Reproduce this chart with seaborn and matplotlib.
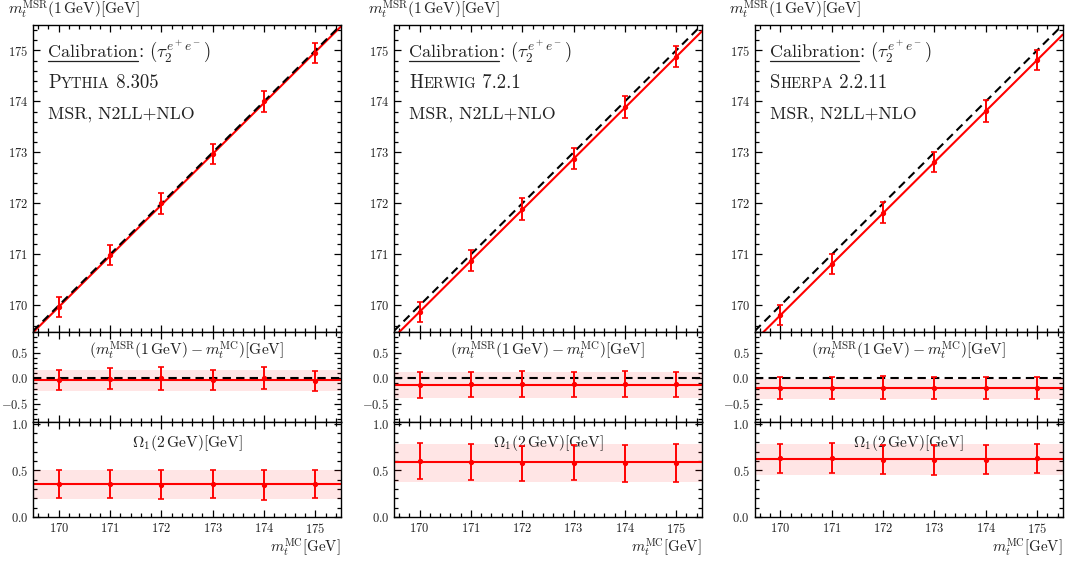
import numpy as np
import pandas as pd
import matplotlib
matplotlib.use("Agg")
import matplotlib.pyplot as plt
import seaborn as sns
from matplotlib.ticker import MultipleLocator

sns.set_theme(style="ticks")
plt.rcParams.update({
    "font.family": "serif",
    "font.serif": ["cmr10"],
    "mathtext.fontset": "cm",
    "axes.formatter.use_mathtext": True,
    "axes.unicode_minus": True,
})

# ---------------- data ----------------
mc = [170, 171, 172, 173, 174, 175]
line_x = [169.5, 175.5]

generators = ["Pythia", "Herwig", "Sherpa"]
gen_label_parts = [("P", "YTHIA", " 8.305"), ("H", "ERWIG", " 7.2.1"), ("S", "HERPA", " 2.2.11")]

pythia_msr = [169.97, 170.99, 172.00, 172.97, 174.00, 174.95]
herwig_msr = [169.87, 170.88, 171.89, 172.88, 173.89, 174.88]
sherpa_msr = [169.81, 170.81, 171.82, 172.81, 173.81, 174.81]
msr_err = [0.2, 0.2, 0.21, 0.2, 0.21, 0.2]

pythia_delta = [-0.03, -0.01, 0.0, -0.03, 0.0, -0.05]
herwig_delta = [-0.13, -0.12, -0.11, -0.12, -0.11, -0.12]
sherpa_delta = [-0.19, -0.19, -0.18, -0.19, -0.19, -0.19]
pythia_delta_err = [0.20, 0.20, 0.22, 0.20, 0.21, 0.20]
herwig_delta_err = [0.25, 0.25, 0.25, 0.25, 0.26, 0.25]
sherpa_delta_err = [0.21, 0.21, 0.22, 0.21, 0.21, 0.21]
delta_fit = [-0.03, -0.125, -0.19]
delta_band = [(-0.24, 0.17), (-0.375, 0.125), (-0.40, -0.01)]

pythia_omega = [0.354, 0.354, 0.347, 0.354, 0.347, 0.354]
herwig_omega = [0.60, 0.59, 0.577, 0.584, 0.577, 0.58]
sherpa_omega = [0.628, 0.635, 0.617, 0.61, 0.617, 0.628]
pythia_omega_err = [0.155, 0.155, 0.155, 0.155, 0.16, 0.155]
herwig_omega_err = [0.19, 0.19, 0.19, 0.19, 0.2, 0.2]
sherpa_omega_err = [0.16, 0.16, 0.16, 0.16, 0.16, 0.16]
omega_fit = [0.354, 0.587, 0.624]
omega_band = [(0.19, 0.507), (0.38, 0.78), (0.456, 0.78)]

msr_all = [pythia_msr, herwig_msr, sherpa_msr]
delta_all = [pythia_delta, herwig_delta, sherpa_delta]
delta_err_all = [pythia_delta_err, herwig_delta_err, sherpa_delta_err]
omega_all = [pythia_omega, herwig_omega, sherpa_omega]
omega_err_all = [pythia_omega_err, herwig_omega_err, sherpa_omega_err]

RED = "#ff0000"
BAND = "#ff0000"
TXT = "#222222"
EB = dict(fmt="o", ms=2.8, color=RED, ecolor=RED, elinewidth=1.4, capsize=2.4,
          capthick=1.2, zorder=4)

fig = plt.figure(figsize=(10.67, 5.66), dpi=100)
gs = fig.add_gridspec(3, 3, height_ratios=[307, 90, 95], hspace=0, wspace=0.172,
                      left=0.031, right=0.996, top=0.956, bottom=0.0866)
renderer = fig.canvas.get_renderer()


def style_axis(ax, ymajor, yminor):
    ax.set_xlim(169.5, 175.5)
    ax.xaxis.set_major_locator(MultipleLocator(1))
    ax.xaxis.set_minor_locator(MultipleLocator(0.2))
    ax.yaxis.set_major_locator(MultipleLocator(ymajor))
    ax.yaxis.set_minor_locator(MultipleLocator(yminor))
    ax.tick_params(which="both", direction="in", top=True, right=True, colors="black",
                   labelcolor=TXT, labelsize=9, width=0.9)
    ax.tick_params(which="major", length=5)
    ax.tick_params(which="minor", length=2.8)
    for s in ax.spines.values():
        s.set_linewidth(1.0)
        s.set_color("black")
    ax.set_xlabel("")
    ax.set_ylabel("")


def chain(ax, x, y, parts):
    texts = []
    inv = ax.transAxes.inverted()
    for s, size in parts:
        t = ax.text(x, y, s, fontsize=size, transform=ax.transAxes, va="baseline",
                    ha="left", color=TXT)
        bb = t.get_window_extent(renderer)
        x = inv.transform((bb.x1, bb.y0))[0]
        texts.append(t)
    return texts


for j in range(3):
    ax_top = fig.add_subplot(gs[0, j])
    ax_mid = fig.add_subplot(gs[1, j], sharex=ax_top)
    ax_bot = fig.add_subplot(gs[2, j], sharex=ax_top)

    # ---- top panel
    diag = pd.DataFrame({"x": line_x, "y": line_x})
    fit = pd.DataFrame({"x": line_x, "y": [v + delta_fit[j] for v in line_x]})
    sns.lineplot(data=fit, x="x", y="y", ax=ax_top, color=RED, lw=1.5, zorder=2)
    sns.lineplot(data=diag, x="x", y="y", ax=ax_top, color="black", lw=1.5,
                 linestyle=(0, (4, 2.5)), zorder=3)
    ax_top.errorbar(mc, msr_all[j], yerr=msr_err, **EB)
    ax_top.set_ylim(169.48, 175.5)
    style_axis(ax_top, 1, 0.2)
    ax_top.tick_params(labelbottom=False)

    t_cal = ax_top.text(0.049, 0.896, "Calibration", fontsize=13, transform=ax_top.transAxes,
                        va="baseline", ha="left", color=TXT)
    bb = t_cal.get_window_extent(renderer)
    inv = ax_top.transAxes.inverted()
    x0, yb = inv.transform((bb.x0, bb.y0))
    x1, _ = inv.transform((bb.x1, bb.y0))
    y_ul = 0.896 - 4.0 / (ax_top.bbox.height)
    ax_top.plot([x0, x1], [y_ul, y_ul], transform=ax_top.transAxes, color=TXT, lw=0.9,
                clip_on=False)
    ax_top.text(x1, 0.896, r": $(\tau_2^{e^+e^-})$", fontsize=13.5, transform=ax_top.transAxes,
                va="baseline", ha="left", color=TXT)
    p1, p2, p3 = gen_label_parts[j]
    chain(ax_top, 0.049, 0.795, [(p1, 13.5), (p2, 10.5), (p3, 13.5)])
    ax_top.text(0.049, 0.694, "MSR, N2LL+NLO", fontsize=12.8, transform=ax_top.transAxes,
                va="baseline", ha="left", color=TXT)
    ax_top.text(-0.083, 1.033, r"$m_t^{\rm MSR}(1\,{\rm GeV})[{\rm GeV}]$", fontsize=11.2,
                transform=ax_top.transAxes, va="baseline", ha="left", color=TXT)

    # ---- middle panel
    lo, hi = delta_band[j]
    ax_mid.axhspan(lo, hi, color=BAND, alpha=0.1, lw=0, zorder=1)
    zero = pd.DataFrame({"x": line_x, "y": [0, 0]})
    dfit = pd.DataFrame({"x": line_x, "y": [delta_fit[j]] * 2})
    sns.lineplot(data=dfit, x="x", y="y", ax=ax_mid, color=RED, lw=1.5, zorder=2)
    sns.lineplot(data=zero, x="x", y="y", ax=ax_mid, color="black", lw=1.5,
                 linestyle=(0, (4, 2.5)), zorder=3)
    ax_mid.errorbar(mc, delta_all[j], yerr=delta_err_all[j], **EB)
    ax_mid.set_ylim(-0.85, 0.9)
    style_axis(ax_mid, 0.5, 0.1)
    ax_mid.tick_params(labelbottom=False)
    ax_mid.text(0.5, 0.74, r"$(m_t^{\rm MSR}(1\,{\rm GeV}) - m_t^{\rm MC})[{\rm GeV}]$",
                fontsize=11.2, transform=ax_mid.transAxes, ha="center", va="baseline",
                color=TXT)

    # ---- bottom panel
    lo, hi = omega_band[j]
    ax_bot.axhspan(lo, hi, color=BAND, alpha=0.1, lw=0, zorder=1)
    ofit = pd.DataFrame({"x": line_x, "y": [omega_fit[j]] * 2})
    sns.lineplot(data=ofit, x="x", y="y", ax=ax_bot, color=RED, lw=1.5, zorder=2)
    ax_bot.errorbar(mc, omega_all[j], yerr=omega_err_all[j], **EB)
    ax_bot.set_ylim(0, 1.02)
    style_axis(ax_bot, 0.5, 0.1)
    ax_bot.text(0.5, 0.74, r"$\Omega_1(2\,{\rm GeV})[{\rm GeV}]$", fontsize=11.2,
                transform=ax_bot.transAxes, ha="center", va="baseline", color=TXT)
    ax_bot.text(1.0, -0.37, r"$m_t^{\rm MC}[{\rm GeV}]$", fontsize=10.8,
                transform=ax_bot.transAxes, ha="right", va="baseline", color=TXT)

fig.savefig("out.png", dpi=100)
